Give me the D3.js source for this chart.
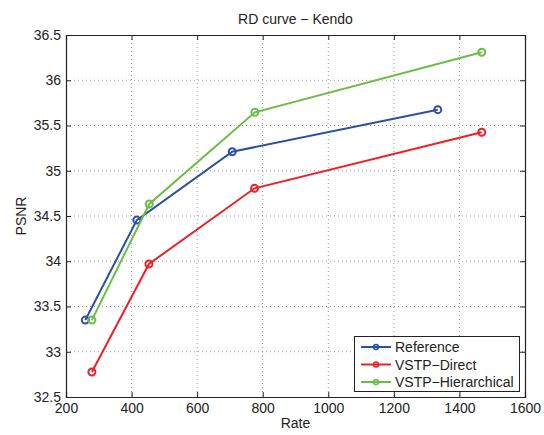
<!DOCTYPE html>
<html><head><meta charset="utf-8">
<script src="https://cdn.jsdelivr.net/npm/d3@7"></script>
<style>body{margin:0;background:#fff}svg{display:block}text{font-family:"Liberation Sans",Arial,sans-serif;fill:#222}</style>
</head><body><svg id="c" width="544" height="435"></svg>
<script>
const seriesNames = ["Reference", "VSTP\u2212Direct", "VSTP\u2212Hierarchical"];
const seriesColors = ["#2b50a6", "#ee1f26", "#6cbd45"];
const refRate = [259, 416, 707, 1334];
const refPSNR = [33.35, 34.455, 35.21, 35.675];
const directRate = [279, 453, 775, 1468];
const directPSNR = [32.776, 33.97, 34.806, 35.425];
const hierRate = [279, 454, 776, 1468];
const hierPSNR = [33.35, 34.633, 35.646, 36.31];
const xTicks = [200, 400, 600, 800, 1000, 1200, 1400, 1600];
const yTicks = [32.5, 33, 33.5, 34, 34.5, 35, 35.5, 36, 36.5];

const series = [
  {name: seriesNames[0], color: seriesColors[0], x: refRate, y: refPSNR},
  {name: seriesNames[1], color: seriesColors[1], x: directRate, y: directPSNR},
  {name: seriesNames[2], color: seriesColors[2], x: hierRate, y: hierPSNR}
];

const L = 66, R = 525, T = 35, B = 397;
const x = d3.scaleLinear().domain([200, 1600]).range([L, R]);
const y = d3.scaleLinear().domain([32.5, 36.5]).range([B, T]);
const svg = d3.select("#c");

// grid
const g = svg.append("g");
g.selectAll(".gx").data(xTicks.slice(1, -1)).join("line")
  .attr("x1", d => x(d)).attr("x2", d => x(d)).attr("y1", T).attr("y2", B)
  .attr("stroke", "#999").attr("stroke-width", 1).attr("stroke-dasharray", "1,3");
g.selectAll(".gy").data(yTicks.slice(1, -1)).join("line")
  .attr("x1", L).attr("x2", R).attr("y1", d => y(d)).attr("y2", d => y(d))
  .attr("stroke", "#999").attr("stroke-width", 1).attr("stroke-dasharray", "1,3");

// axes
const axB = d3.axisBottom(x).tickValues(xTicks).tickSize(-5).tickPadding(6).tickFormat(d3.format("d"));
const axT = d3.axisTop(x).tickValues(xTicks).tickSize(-5).tickFormat("");
const axL = d3.axisLeft(y).tickValues(yTicks).tickSize(-5).tickPadding(5).tickFormat(d => String(d));
const axR = d3.axisRight(y).tickValues(yTicks).tickSize(-5).tickFormat("");
function style(sel){
  sel.select(".domain").attr("stroke", "#222").attr("stroke-width", 1.2);
  sel.selectAll(".tick line").attr("stroke", "#222");
  sel.selectAll(".tick text").attr("font-size", 14).attr("fill", "#222")
    .attr("font-family", '"Liberation Sans",Arial,sans-serif');
}
svg.append("g").attr("transform", `translate(0,${B})`).call(axB).call(style);
svg.append("g").attr("transform", `translate(0,${T})`).call(axT).call(style);
svg.append("g").attr("transform", `translate(${L},0)`).call(axL).call(style);
svg.append("g").attr("transform", `translate(${R},0)`).call(axR).call(style);

// lines and markers
const line = d3.line().x(d => x(d[0])).y(d => y(d[1]));
series.forEach(s => {
  const pts = s.x.map((v, i) => [v, s.y[i]]);
  svg.append("path").datum(pts).attr("d", line).attr("fill", "none")
    .attr("stroke", s.color).attr("stroke-width", 2);
  svg.selectAll(null).data(pts).join("circle")
    .attr("cx", d => x(d[0])).attr("cy", d => y(d[1])).attr("r", 3.5)
    .attr("fill", "none").attr("stroke", s.color).attr("stroke-width", 2);
});

// title and labels
svg.append("text").attr("x", (L + R) / 2).attr("y", 24).attr("text-anchor", "middle")
  .attr("font-size", 14).text("RD curve \u2212 Kendo");
svg.append("text").attr("x", (L + R) / 2).attr("y", 428).attr("text-anchor", "middle")
  .attr("font-size", 14).text("Rate");
svg.append("text").attr("transform", `translate(26,${(T + B) / 2}) rotate(-90)`)
  .attr("text-anchor", "middle").attr("font-size", 14).text("PSNR");

// legend
const lg = svg.append("g");
lg.append("rect").attr("x", 354.5).attr("y", 336.5).attr("width", 165).attr("height", 55)
  .attr("fill", "#fff").attr("stroke", "#222").attr("stroke-width", 1);
series.forEach((s, i) => {
  const yy = 347 + i * 17.5;
  lg.append("line").attr("x1", 361).attr("x2", 391).attr("y1", yy).attr("y2", yy)
    .attr("stroke", s.color).attr("stroke-width", 2);
  lg.append("circle").attr("cx", 376).attr("cy", yy).attr("r", 2.5)
    .attr("fill", "none").attr("stroke", s.color).attr("stroke-width", 1.5);
  lg.append("text").attr("x", 395).attr("y", yy + 5).attr("font-size", 14).text(s.name);
});
</script></body></html>
